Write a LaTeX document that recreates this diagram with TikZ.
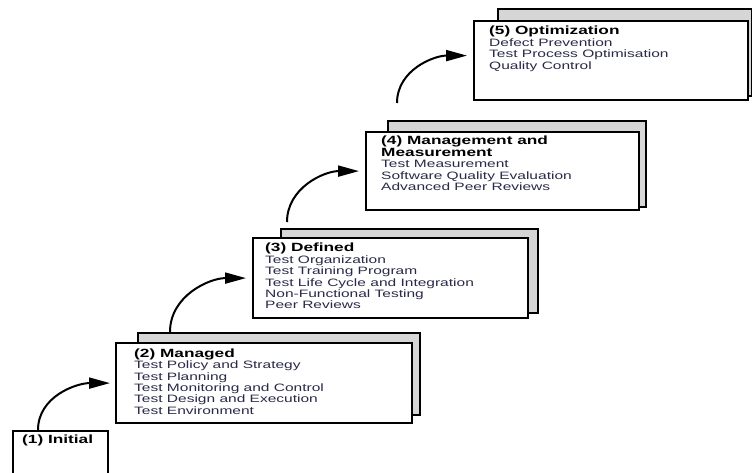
\documentclass[tikz,border=0pt]{standalone}
\usepackage{fontspec}
\setmainfont[FakeStretch=1.45]{Liberation Sans}
\usetikzlibrary{arrows.meta}

\definecolor{itemtext}{RGB}{42,42,72}
\definecolor{shadowfill}{RGB}{214,214,214}

% bold first line of each level
\newcommand\levelhead[1]{{\fontsize{11.9}{11.8}\selectfont\bfseries\color{black}#1}}

\tikzset{
  frontbox/.style={draw=black, line width=2.2pt, fill=white, rectangle,
    inner sep=0pt, anchor=north west},
  backbox/.style={draw=black, line width=2.2pt, fill=shadowfill, rectangle,
    inner sep=0pt, anchor=north west},
  leveltext/.style={anchor=north west, inner sep=0pt, align=left,
    text=itemtext, font=\fontsize{10.7}{11.4}\selectfont},
  flow/.style={line width=2pt, -{Triangle[length=21pt,width=11pt]}},
}

\begin{document}
\begin{tikzpicture}[x=1pt, y=-1pt]
\useasboundingbox (0,0) rectangle (752,473);

% back plates of the stacked levels
\node[backbox, minimum width=282pt, minimum height=82pt] (s2) at (137,332) {};
\node[backbox, minimum width=257pt, minimum height=84pt] (s3) at (280,228) {};
\node[backbox, minimum width=258pt, minimum height=86pt] (s4) at (387,120) {};
\node[backbox, minimum width=254pt, minimum height=87pt] (s5) at (497,8) {};

% front plates
\node[frontbox, minimum width=95pt,  minimum height=46pt] (b1) at (12,430) {};
\node[frontbox, minimum width=296pt, minimum height=80pt] (b2) at (115,342) {};
\node[frontbox, minimum width=275pt, minimum height=80pt] (b3) at (252,237) {};
\node[frontbox, minimum width=273pt, minimum height=78pt] (b4) at (365,131) {};
\node[frontbox, minimum width=274pt, minimum height=79pt] (b5) at (473,20) {};

% level contents
\node[leveltext] (t1) at (22,434.5) {\levelhead{(1) Initial}};
\node[leveltext] (t2) at (134,348.5) {\levelhead{(2) Managed}\\
  Test Policy and Strategy\\
  Test Planning\\
  Test Monitoring and Control\\
  Test Design and Execution\\
  Test Environment};
\node[leveltext] (t3) at (265,243) {\levelhead{(3) Defined}\\
  Test Organization\\
  Test Training Program\\
  Test Life Cycle and Integration\\
  Non-Functional Testing\\
  Peer Reviews};
\node[leveltext] (t4) at (381,136) {\levelhead{(4) Management and}\\
  \levelhead{Measurement}\\
  Test Measurement\\
  Software Quality Evaluation\\
  Advanced Peer Reviews};
\node[leveltext] (t5) at (489,26) {\levelhead{(5) Optimization}\\
  Defect Prevention\\
  Test Process Optimisation\\
  Quality Control};

% steps up from one level to the next
\draw[flow] ([xshift=26pt]b1.north west) to[out=90,in=180] ([xshift=-5pt]b2.west);
\draw[flow] ([xshift=33pt]s2.north west) to[out=90,in=180] ([xshift=-6pt]b3.west);
\draw[flow] ([xshift=7pt,yshift=6pt]s3.north west) to[out=90,in=180] ([xshift=-6pt]b4.west);
\draw[flow] ([xshift=10pt,yshift=17pt]s4.north west) to[out=90,in=180] ([xshift=-6pt,yshift=5pt]b5.west);
\end{tikzpicture}
\end{document}
